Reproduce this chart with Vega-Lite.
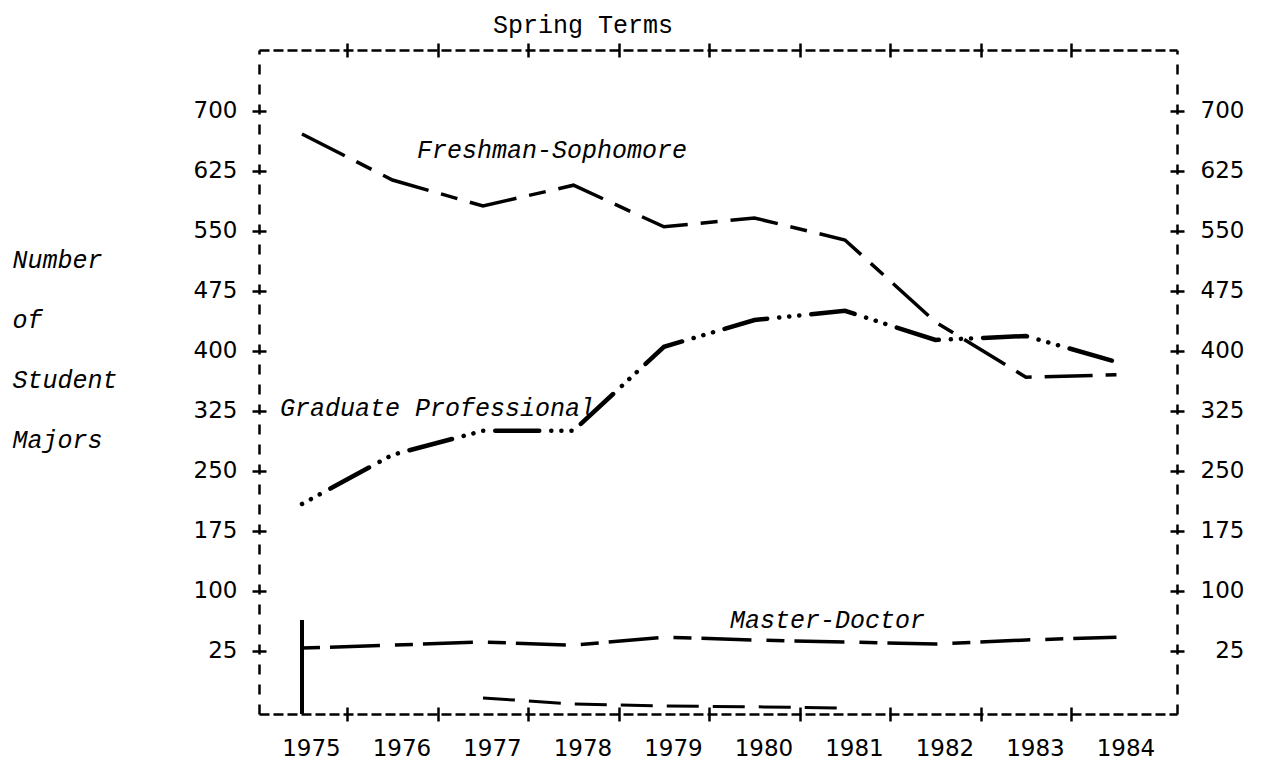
{
  "$schema": "https://vega.github.io/schema/vega-lite/v6.json",
  "width": 918,
  "height": 664,
  "autosize": {"type": "none"},
  "padding": {"left": 259, "top": 50, "right": 87, "bottom": 47},
  "background": "white",
  "config": {"view": {"stroke": null}, "axis": {"grid": false}},
  "title": {"text": "Spring Terms", "font": "Liberation Mono", "fontSize": 25, "fontWeight": "normal", "color": "black", "frame": "group", "anchor": "start", "align": "center", "dx": 324, "dy": 28, "baseline": "alphabetic", "offset": 12},
  "datasets": {
    "enrol": [
      {"series": "Freshman-Sophomore", "year": 1975, "value": 671},
      {"series": "Freshman-Sophomore", "year": 1976, "value": 613.5},
      {"series": "Freshman-Sophomore", "year": 1977, "value": 581},
      {"series": "Freshman-Sophomore", "year": 1978, "value": 607},
      {"series": "Freshman-Sophomore", "year": 1979, "value": 555},
      {"series": "Freshman-Sophomore", "year": 1980, "value": 566},
      {"series": "Freshman-Sophomore", "year": 1981, "value": 538.5},
      {"series": "Freshman-Sophomore", "year": 1982, "value": 436},
      {"series": "Freshman-Sophomore", "year": 1983, "value": 367},
      {"series": "Freshman-Sophomore", "year": 1984, "value": 370},
      {"series": "Graduate Professional", "year": 1975, "value": 208.5},
      {"series": "Graduate Professional", "year": 1976, "value": 270},
      {"series": "Graduate Professional", "year": 1977, "value": 300},
      {"series": "Graduate Professional", "year": 1978, "value": 300},
      {"series": "Graduate Professional", "year": 1979, "value": 405},
      {"series": "Graduate Professional", "year": 1980, "value": 438.5},
      {"series": "Graduate Professional", "year": 1981, "value": 450},
      {"series": "Graduate Professional", "year": 1982, "value": 413.5},
      {"series": "Graduate Professional", "year": 1983, "value": 418.5},
      {"series": "Graduate Professional", "year": 1984, "value": 386},
      {"series": "Master-Doctor", "year": 1975, "value": 28.5},
      {"series": "Master-Doctor", "year": 1976, "value": 32},
      {"series": "Master-Doctor", "year": 1977, "value": 36},
      {"series": "Master-Doctor", "year": 1978, "value": 32},
      {"series": "Master-Doctor", "year": 1979, "value": 42},
      {"series": "Master-Doctor", "year": 1980, "value": 38.5},
      {"series": "Master-Doctor", "year": 1981, "value": 36},
      {"series": "Master-Doctor", "year": 1982, "value": 33.5},
      {"series": "Master-Doctor", "year": 1983, "value": 38.5},
      {"series": "Master-Doctor", "year": 1984, "value": 42},
      {"series": "Other", "year": 1977, "value": -34},
      {"series": "Other", "year": 1978, "value": -41.5},
      {"series": "Other", "year": 1979, "value": -44},
      {"series": "Other", "year": 1980, "value": -45},
      {"series": "Other", "year": 1981, "value": -46.5}
    ]
  },
  "resolve": {"axis": {"x": "independent", "y": "independent"}},
  "layer": [
    {
      "data": {"name": "enrol"},
      "transform": [{"filter": "datum.series === 'Freshman-Sophomore'"}],
      "mark": {"type": "line", "stroke": "black", "strokeWidth": 3.5, "strokeDash": [48, 13, 17, 13]},
      "encoding": {
        "x": {
          "field": "year", "type": "quantitative",
          "scale": {"domain": [1974.525, 1984.669], "nice": false, "zero": false},
          "axis": {"orient": "bottom", "values": [1975, 1976, 1977, 1978, 1979, 1980, 1981, 1982, 1983, 1984], "format": "d", "ticks": false, "domain": true, "domainDash": [10, 4], "domainColor": "black", "domainWidth": 2.5, "labelFont": "DejaVu Sans", "labelFontSize": 23, "labelColor": "black", "labelPadding": 34, "labelBaseline": "middle", "labelOffset": 9, "labelFlush": false, "labelOverlap": false, "title": null}
        },
        "y": {
          "field": "value", "type": "quantitative",
          "scale": {"domain": [-54, 776], "nice": false, "zero": false},
          "axis": {"orient": "left", "values": [25, 100, 175, 250, 325, 400, 475, 550, 625, 700], "ticks": false, "domain": true, "domainDash": [10, 10], "domainColor": "black", "domainWidth": 2.5, "labelFont": "DejaVu Sans", "labelFontSize": 23, "labelColor": "black", "labelPadding": 22, "labelBaseline": "middle", "labelFlush": false, "labelOverlap": false,
            "title": ["Number", "\u00a0\u00a0of", "Student", "Majors"], "titleAngle": 0, "titleAlign": "left", "titleBaseline": "alphabetic", "titleX": -247, "titleY": 217, "titleLineHeight": 60, "titleFont": "Liberation Mono", "titleFontStyle": "italic", "titleFontWeight": "normal", "titleFontSize": 25, "titleColor": "black"}
        }
      }
    },
    {
      "data": {"name": "enrol"},
      "transform": [{"filter": "datum.series === 'Graduate Professional'"}],
      "mark": {"type": "line", "stroke": "black", "strokeWidth": 4.5, "strokeCap": "round", "strokeDash": [44, 12, 0.1, 10, 0.1, 10, 0.1, 12], "strokeDashOffset": 56},
      "encoding": {
        "x": {"field": "year", "type": "quantitative", "axis": {"orient": "top", "labels": false, "ticks": false, "domain": true, "domainDash": [10, 4], "domainColor": "black", "domainWidth": 2.5, "title": null}},
        "y": {"field": "value", "type": "quantitative", "axis": {"orient": "right", "values": [25, 100, 175, 250, 325, 400, 475, 550, 625, 700], "ticks": false, "domain": true, "domainDash": [10, 10], "domainColor": "black", "domainWidth": 2.5, "labelFont": "DejaVu Sans", "labelFontSize": 23, "labelColor": "black", "labelAlign": "right", "labelPadding": 67, "labelBaseline": "middle", "labelFlush": false, "labelOverlap": false, "title": null}}
      }
    },
    {
      "data": {"name": "enrol"},
      "transform": [{"filter": "datum.series === 'Master-Doctor'"}],
      "mark": {"type": "line", "stroke": "black", "strokeWidth": 3.5, "strokeDash": [18, 10, 50, 15]},
      "encoding": {
        "x": {"field": "year", "type": "quantitative", "axis": {"orient": "bottom", "values": [1975.5, 1976.5, 1977.5, 1978.5, 1979.5, 1980.5, 1981.5, 1982.5, 1983.5], "labels": false, "domain": false, "ticks": true, "tickSize": 14, "offset": -7, "tickWidth": 2.5, "tickColor": "black", "title": null}},
        "y": {"field": "value", "type": "quantitative", "axis": {"orient": "left", "values": [25, 100, 175, 250, 325, 400, 475, 550, 625, 700], "labels": false, "domain": false, "ticks": true, "tickSize": 14, "offset": -7, "tickWidth": 2.5, "tickColor": "black", "title": null}}
      }
    },
    {
      "data": {"name": "enrol"},
      "transform": [{"filter": "datum.series === 'Other'"}],
      "mark": {"type": "line", "stroke": "black", "strokeWidth": 3, "strokeDash": [32, 14]},
      "encoding": {
        "x": {"field": "year", "type": "quantitative", "axis": {"orient": "top", "values": [1975.5, 1976.5, 1977.5, 1978.5, 1979.5, 1980.5, 1981.5, 1982.5, 1983.5], "labels": false, "domain": false, "ticks": true, "tickSize": 14, "offset": -7, "tickWidth": 2.5, "tickColor": "black", "title": null}},
        "y": {"field": "value", "type": "quantitative", "axis": {"orient": "right", "values": [25, 100, 175, 250, 325, 400, 475, 550, 625, 700], "labels": false, "domain": false, "ticks": true, "tickSize": 14, "offset": -7, "tickWidth": 2.5, "tickColor": "black", "title": null}}
      }
    },
    {
      "data": {"values": [{}]},
      "mark": {"type": "rule", "stroke": "black", "strokeWidth": 4},
      "encoding": {
        "x": {"datum": 1975, "type": "quantitative", "axis": null},
        "y": {"datum": -54, "type": "quantitative", "axis": null},
        "y2": {"datum": 63.5}
      }
    },
    {
      "data": {"values": [{}]},
      "mark": {"type": "text", "text": "Freshman-Sophomore", "font": "Liberation Mono", "fontStyle": "italic", "fontSize": 25, "align": "left", "baseline": "alphabetic", "color": "black"},
      "encoding": {
        "x": {"datum": 1976.27, "type": "quantitative", "axis": null},
        "y": {"datum": 641, "type": "quantitative", "axis": null}
      }
    },
    {
      "data": {"values": [{}]},
      "mark": {"type": "text", "text": "Graduate Professional", "font": "Liberation Mono", "fontStyle": "italic", "fontSize": 25, "align": "left", "baseline": "alphabetic", "color": "black"},
      "encoding": {
        "x": {"datum": 1974.757, "type": "quantitative", "axis": null},
        "y": {"datum": 318.5, "type": "quantitative", "axis": null}
      }
    },
    {
      "data": {"values": [{}]},
      "mark": {"type": "text", "text": "Master-Doctor", "font": "Liberation Mono", "fontStyle": "italic", "fontSize": 25, "align": "left", "baseline": "alphabetic", "color": "black"},
      "encoding": {
        "x": {"datum": 1979.73, "type": "quantitative", "axis": null},
        "y": {"datum": 53.5, "type": "quantitative", "axis": null}
      }
    }
  ]
}
